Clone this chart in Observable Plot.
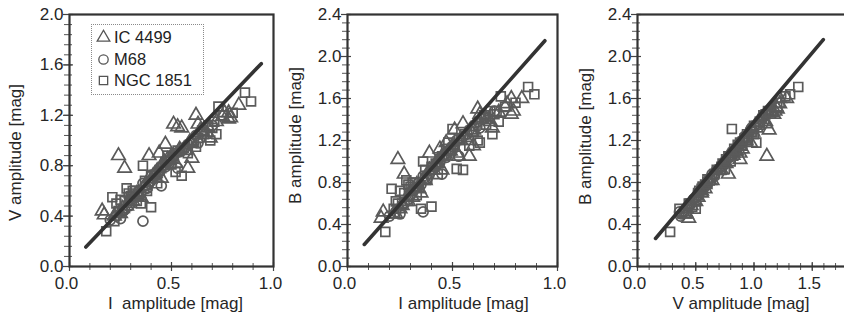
<!DOCTYPE html>
<html><head><meta charset="utf-8">
<script src="https://cdn.jsdelivr.net/npm/d3@7"></script>
<script src="https://cdn.jsdelivr.net/npm/@observablehq/plot@0.6"></script>
<style>
html,body{margin:0;padding:0;background:#fff;overflow:hidden;}
#wrap{position:relative;width:844px;height:320px;overflow:hidden;font-family:"Liberation Sans",Arial,Helvetica,sans-serif;color:#222;}
.panel{position:absolute;top:0;}
.panel svg{max-width:none !important;}
#legend{position:absolute;left:91px;top:24px;width:113px;height:71px;border:1px dotted #8a8a8a;padding:2px 0 0 4px;box-sizing:border-box;background:transparent;}
#legend .lg-swatches{margin:0 !important;font-family:"Liberation Sans",Arial,sans-serif !important;font-size:16.5px !important;color:#222 !important;}
#legend .lg-swatches-wrap{display:flex !important;flex-direction:column !important;align-items:flex-start !important;min-height:0 !important;}
#legend .lg-swatch{display:flex !important;align-items:center !important;margin:0 !important;height:21.5px;}
#legend .lg-swatch > svg{margin-right:3px !important;}
</style></head><body><div id="wrap"></div>
<script>
// ---- data (amplitudes in mag) ----
const seriesNames = ["IC 4499", "M68", "NGC 1851"];
const seriesSymbols = ["triangle", "circle", "square"];

const ic4499_I = [0.16,0.17,0.24,0.27,0.22,0.25,0.28,0.30,0.33,0.36,0.39,0.39,0.42,0.44,0.45,0.47,0.48,0.50,0.51,0.53,0.55,0.58,0.57,0.60,0.62,0.63,0.66,0.68,0.78,0.76,0.79,0.83,0.78,0.69,0.35,0.45,0.52,0.60,
  0.23,0.26,0.29,0.31,0.34,0.37,0.41,0.43,0.46,0.49,0.54,0.59,0.64,0.72,0.75];
const ic4499_V = [0.44,0.41,0.88,0.78,0.40,0.42,0.48,0.55,0.58,0.62,0.70,0.88,0.74,0.90,0.80,0.97,0.85,0.88,1.13,1.11,1.10,0.78,0.92,0.98,1.20,1.13,1.05,1.10,1.22,1.22,1.18,1.28,1.17,1.02,0.55,0.70,0.82,0.86,
  0.42,0.46,0.50,0.52,0.58,0.64,0.72,0.76,0.82,0.84,0.93,0.99,1.08,1.15,1.19];
const ic4499_B = [0.46,0.52,1.02,0.88,0.50,0.55,0.62,0.72,0.78,0.82,0.92,1.08,0.98,1.12,1.05,1.18,1.10,1.15,1.30,1.05,1.36,1.05,1.20,1.30,1.50,1.45,1.40,1.38,1.60,1.55,1.48,1.60,1.45,1.32,0.70,0.92,1.08,1.15,
  0.50,0.58,0.62,0.66,0.74,0.82,0.92,0.98,1.06,1.10,1.20,1.28,1.40,1.47,1.52];

const m68_I = [0.20,0.23,0.25,0.36,0.27,0.30,0.32,0.34,0.38,0.40,0.42,0.44,0.46,0.48,0.50,0.52,0.55,0.58,0.60,0.63,0.66,0.70,0.36,0.45,0.53,
  0.26,0.29,0.31,0.33,0.35,0.37,0.39,0.41,0.43,0.47,0.49,0.51,0.54,0.57,0.62,0.65];
const m68_V = [0.37,0.40,0.38,0.36,0.45,0.52,0.55,0.60,0.62,0.68,0.72,0.75,0.80,0.83,0.86,0.90,0.92,0.97,1.00,0.98,1.08,1.12,0.66,0.64,0.78,
  0.44,0.48,0.54,0.57,0.58,0.64,0.66,0.70,0.74,0.79,0.84,0.87,0.91,0.95,1.04,1.07];
const m68_B = [0.48,0.52,0.50,0.52,0.60,0.68,0.74,0.80,0.84,0.92,0.96,1.00,1.06,1.10,1.14,1.20,1.24,1.30,1.34,1.32,1.42,1.48,0.86,0.88,1.05,
  0.58,0.64,0.72,0.75,0.78,0.85,0.88,0.93,0.98,1.04,1.12,1.16,1.21,1.26,1.38,1.42];

const ngc1851_I = [0.18,0.21,0.23,0.26,0.28,0.31,0.33,0.35,0.40,0.36,0.40,0.43,0.45,0.48,0.50,0.52,0.55,0.53,0.58,0.60,0.62,0.63,0.66,0.69,0.70,0.72,0.73,0.75,0.71,0.86,0.89,0.80,0.38,0.29,0.25,0.22,
  0.24,0.27,0.30,0.32,0.34,0.37,0.42,0.44,0.47,0.51,0.56,0.61,0.65,0.68];
const ngc1851_V = [0.28,0.55,0.50,0.45,0.62,0.60,0.52,0.50,0.47,0.80,0.72,0.66,0.78,0.88,0.81,0.75,0.72,0.92,0.90,0.98,0.95,1.02,1.05,1.00,1.10,1.05,1.27,1.20,1.15,1.38,1.31,1.22,0.60,0.58,0.53,0.36,
  0.44,0.52,0.56,0.60,0.56,0.68,0.73,0.76,0.83,0.86,0.94,1.00,1.08,1.12];
const ngc1851_B = [0.33,0.74,0.62,0.60,0.82,0.80,0.68,0.55,0.57,1.00,0.95,0.88,1.05,1.18,1.31,0.93,0.92,1.22,1.15,1.28,1.20,1.18,1.35,1.26,1.45,1.38,1.62,1.52,1.48,1.71,1.64,1.56,0.83,0.78,0.72,0.55,
  0.60,0.70,0.76,0.80,0.76,0.92,0.98,1.02,1.12,1.16,1.26,1.34,1.44,1.48];

// fitted relations (end points)
const fitIV_I = [0.08, 0.94], fitIV_V = [0.155, 1.61];
const fitIB_I = [0.08, 0.94], fitIB_B = [0.21, 2.15];
const fitVB_V = [0.155, 1.595], fitVB_B = [0.267, 2.16];

// tick labels
const ticksI = [0, 0.5, 1.0];
const ticksV_x = [0, 0.5, 1.0, 1.5];
const ticksV_y = [0, 0.4, 0.8, 1.2, 1.6, 2.0];
const ticksB_y = [0, 0.4, 0.8, 1.2, 1.6, 2.0, 2.4];

// ---- build table ----
const rows = [];
function addSeries(name, I, V, B) { I.forEach((v, i) => rows.push({series: name, I: v, V: V[i], B: B[i]})); }
addSeries("M68", m68_I, m68_V, m68_B);
addSeries("NGC 1851", ngc1851_I, ngc1851_V, ngc1851_B);
addSeries("IC 4499", ic4499_I, ic4499_V, ic4499_B);

const FONT = '"Liberation Sans", Arial, Helvetica, sans-serif';
const INK = "#262626";

function panel(o) {
  const fit = o.fitX.map((x, i) => ({x, y: o.fitY[i]}));
  const xMinor = d3.range(o.xDomain[0], o.xDomain[1] + 1e-9, 0.1);
  const yMinor = d3.range(o.yDomain[0], o.yDomain[1] + 1e-9, 0.08);
  return Plot.plot({
    width: o.width, height: 320,
    marginLeft: o.marginLeft, marginRight: o.marginRight, marginTop: 14, marginBottom: 54,
    style: {fontFamily: FONT, fontSize: "17px", color: INK, background: "transparent", overflow: "visible"},
    x: {domain: o.xDomain},
    y: {domain: o.yDomain},
    symbol: {domain: seriesNames, range: seriesSymbols},
    marks: [
      // minor ticks crossing the axis
      Plot.axisX({ticks: xMinor, tickSize: 7, dy: -3, fill: "none", label: null, stroke: "#555", strokeWidth: 1}),
      Plot.axisY({ticks: yMinor, tickSize: 8, dx: 3, fill: "none", label: null, stroke: "#555", strokeWidth: 1}),
      // major ticks
      Plot.axisX({ticks: o.xTicks, tickSize: 9, dy: -4, fill: "none", label: null, stroke: "#444", strokeWidth: 1.2}),
      Plot.axisY({ticks: o.yTicks, tickSize: 10, dx: 4, fill: "none", label: null, stroke: "#444", strokeWidth: 1.2}),
      // tick labels
      Plot.axisX({ticks: o.xTicks, tickSize: 0, tickPadding: 10, dx: -3, tickFormat: ".1f", label: null, stroke: "none", fill: INK, fontSize: 17}),
      Plot.axisY({ticks: o.yTicks, tickSize: 0, tickPadding: 6, tickFormat: ".1f", label: null, stroke: "none", fill: INK, fontSize: 17}),
      Plot.frame({stroke: "#333", strokeWidth: 2.2}),
      Plot.dot(rows, {x: o.xKey, y: o.yKey, symbol: "series", r: 5, stroke: "#5a5a5a", strokeWidth: 1.7, fill: "none"}),
      Plot.line(fit, {x: "x", y: "y", stroke: "#333", strokeWidth: 3.6, strokeLinecap: "round"}),
      Plot.text([o.xLabel], {frameAnchor: "bottom", textAnchor: "middle", lineAnchor: "middle", dy: 37, dx: o.xLabelDx, fontSize: 17, fill: INK}),
      Plot.text([o.yLabel], {frameAnchor: "left", textAnchor: "middle", lineAnchor: "middle", rotate: -90, dx: o.yLabelDx, dy: o.yLabelDy, fontSize: 17, fill: INK})
    ]
  });
}

const wrap = document.getElementById("wrap");
const specs = [
  {left: 0, width: 286, marginLeft: 69, marginRight: 13, xKey: "I", yKey: "V", xDomain: [0, 1.0], yDomain: [0, 2.0],
   xTicks: ticksI, yTicks: ticksV_y, fitX: fitIV_I, fitY: fitIV_V,
   xLabel: "I  amplitude [mag]", yLabel: "V amplitude [mag]", xLabelDx: 4, yLabelDx: -54, yLabelDy: 12},
  {left: 278, width: 297, marginLeft: 69, marginRight: 18, xKey: "I", yKey: "B", xDomain: [0, 1.0], yDomain: [0, 2.4],
   xTicks: ticksI, yTicks: ticksB_y, fitX: fitIB_I, fitY: fitIB_B,
   xLabel: "I amplitude [mag]", yLabel: "B amplitude [mag]", xLabelDx: 11, yLabelDx: -52, yLabelDy: -5},
  {left: 566, width: 320, marginLeft: 71, marginRight: 16, xKey: "V", yKey: "B", xDomain: [0, 2.0], yDomain: [0, 2.4],
   xTicks: ticksV_x, yTicks: ticksB_y, fitX: fitVB_V, fitY: fitVB_B,
   xLabel: "V amplitude [mag]", yLabel: "B amplitude [mag]", xLabelDx: -13, yLabelDx: -52, yLabelDy: -4}
];
for (const s of specs) {
  const div = document.createElement("div");
  div.className = "panel";
  div.style.left = s.left + "px";
  div.style.width = s.width + "px";
  div.appendChild(panel(s));
  wrap.appendChild(div);
}

const legendBox = document.createElement("div");
legendBox.id = "legend";
legendBox.appendChild(Plot.legend({
  className: "lg",
  symbol: {domain: seriesNames, range: seriesSymbols},
  stroke: "#555", fill: "none", strokeWidth: 1.4, r: 5, swatchSize: 15
}));
wrap.appendChild(legendBox);
</script>
</body></html>
